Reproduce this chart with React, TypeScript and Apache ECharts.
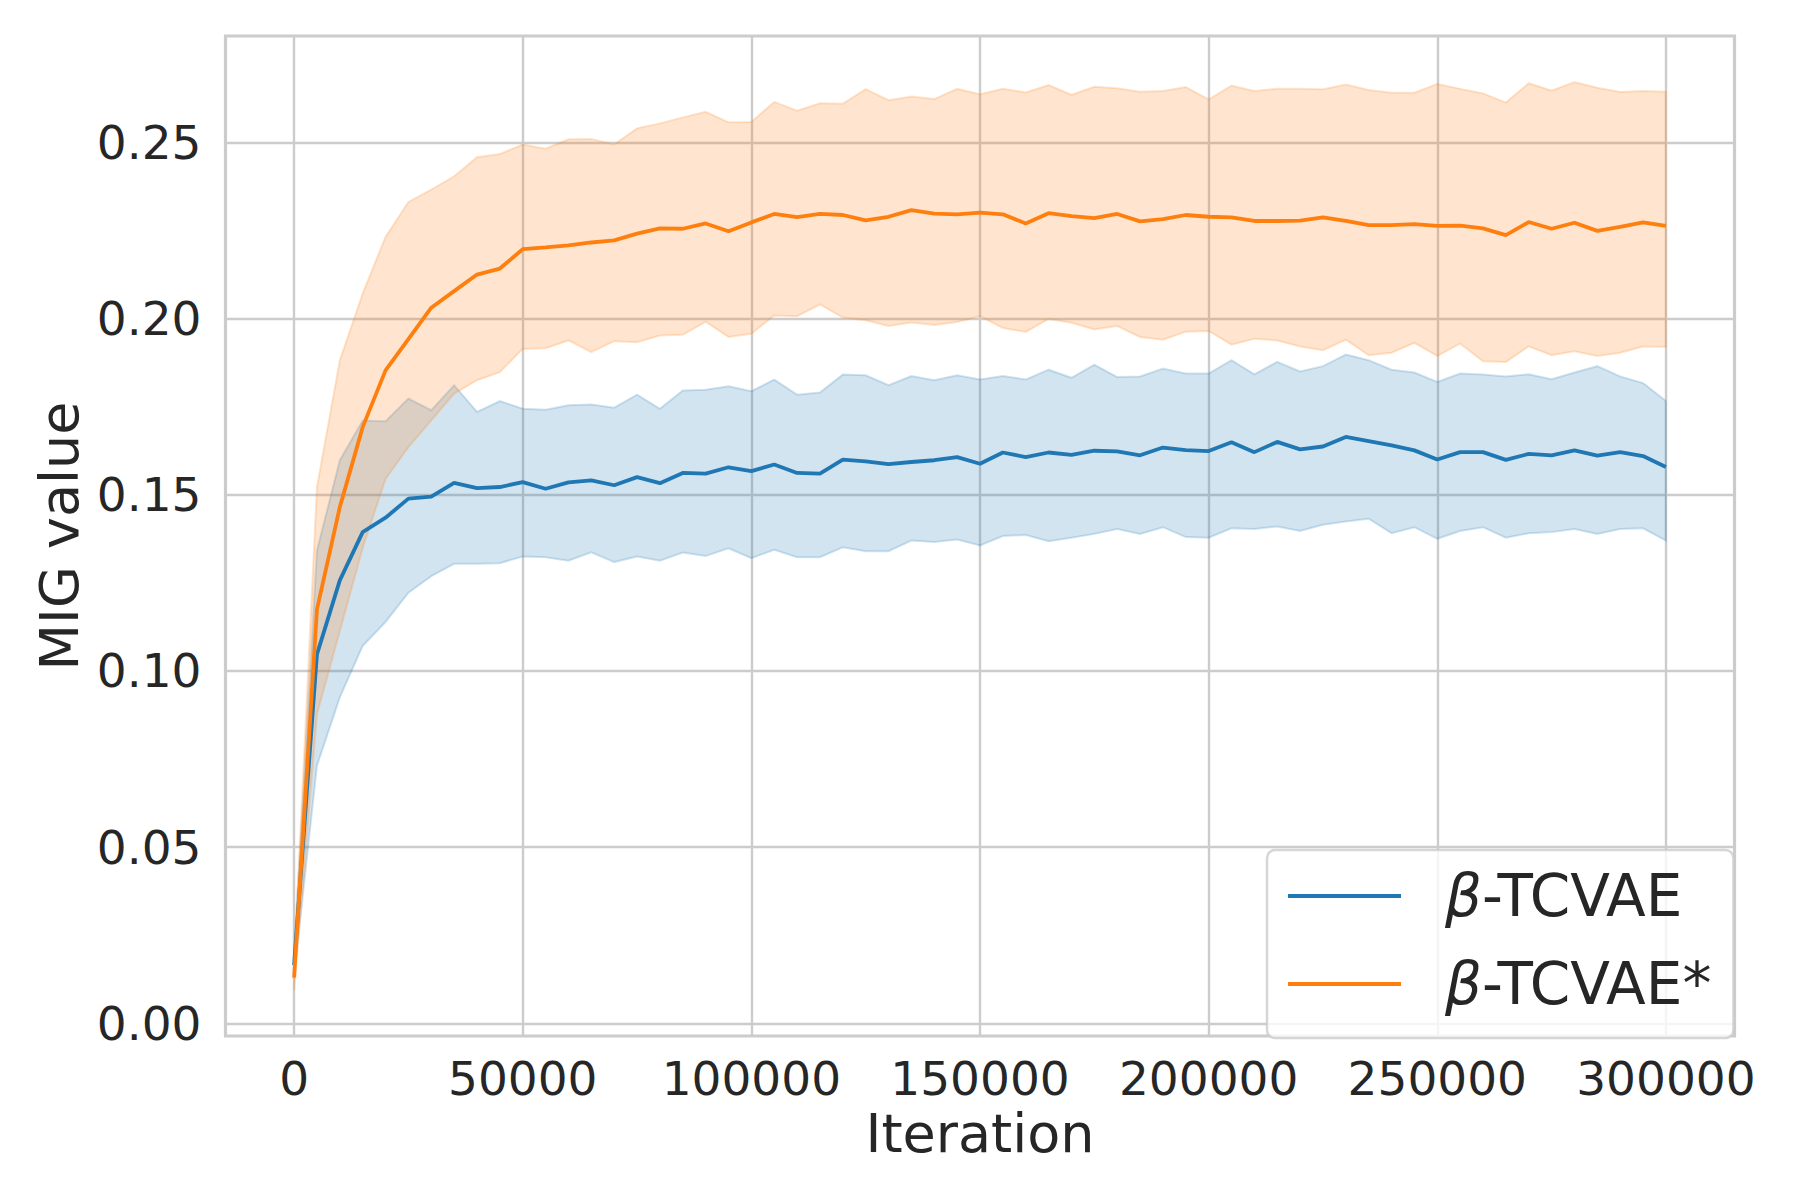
import React, { useEffect, useRef } from "react";
import * as echarts from "echarts";

// ---------- data ----------
const ITERATIONS = [
  0, 5000, 10000, 15000, 20000, 25000, 30000, 35000, 40000, 45000,
  50000, 55000, 60000, 65000, 70000, 75000, 80000, 85000, 90000, 95000,
  100000, 105000, 110000, 115000, 120000, 125000, 130000, 135000, 140000, 145000,
  150000, 155000, 160000, 165000, 170000, 175000, 180000, 185000, 190000, 195000,
  200000, 205000, 210000, 215000, 220000, 225000, 230000, 235000, 240000, 245000,
  250000, 255000, 260000, 265000, 270000, 275000, 280000, 285000, 290000, 295000,
  300000,
];

const TCVAE_MEAN = [
  0.0165, 0.1047, 0.1257, 0.1394, 0.1435, 0.1489, 0.1495, 0.1534, 0.1519, 0.1522,
  0.1536, 0.1517, 0.1535, 0.1541, 0.1527, 0.155, 0.1533, 0.1562, 0.156, 0.1578,
  0.1567, 0.1586, 0.1562, 0.156, 0.16, 0.1595, 0.1587, 0.1593, 0.1598, 0.1607,
  0.1588, 0.162, 0.1607, 0.162, 0.1613, 0.1625, 0.1623, 0.1612, 0.1634, 0.1627,
  0.1624, 0.1649, 0.1621, 0.165, 0.1629, 0.1637, 0.1664, 0.1652, 0.164, 0.1626,
  0.16, 0.1621, 0.1621, 0.1599, 0.1616, 0.1612, 0.1626, 0.1611, 0.1621, 0.161,
  0.1579,
];
const TCVAE_LOW = [
  0.0135, 0.0731, 0.0925, 0.1071, 0.1139, 0.1222, 0.1269, 0.1304, 0.1304, 0.1306,
  0.1325, 0.1323, 0.1313, 0.1337, 0.1309, 0.1325, 0.1313, 0.1336, 0.1326, 0.1348,
  0.132, 0.1344, 0.1323, 0.1323, 0.1351, 0.134, 0.134, 0.137, 0.1366, 0.1373,
  0.1356, 0.1383, 0.1386, 0.1368, 0.1378, 0.1389, 0.1403, 0.1389, 0.1408, 0.138,
  0.1378, 0.1405, 0.1403, 0.141, 0.1397, 0.1415, 0.1424, 0.1432, 0.1391, 0.1408,
  0.1375, 0.1397, 0.1408, 0.1378, 0.1391, 0.1394, 0.1403, 0.1389, 0.1403, 0.1405,
  0.137,
];
const TCVAE_HIGH = [
  0.0195, 0.1342, 0.1598, 0.1711, 0.1709, 0.1773, 0.174, 0.1811, 0.1735, 0.1766,
  0.1744, 0.1741, 0.1754, 0.1756, 0.1747, 0.1784, 0.1744, 0.1796, 0.1798, 0.1808,
  0.1794, 0.1827, 0.1784, 0.179, 0.1841, 0.1839, 0.1811, 0.1837, 0.1825, 0.1839,
  0.1827, 0.1837, 0.1827, 0.1855, 0.1832, 0.1869, 0.1834, 0.1836, 0.1858, 0.1844,
  0.1844, 0.1882, 0.1842, 0.1877, 0.185, 0.1865, 0.1898, 0.1882, 0.1855, 0.1847,
  0.182, 0.1844, 0.1841, 0.1836, 0.1842, 0.1828, 0.1847, 0.1865, 0.1836, 0.1817,
  0.1766,
];

const STAR_MEAN = [
  0.013, 0.1175, 0.1465, 0.1692, 0.1853, 0.1942, 0.2031, 0.2078, 0.2125, 0.2142,
  0.2197, 0.2202, 0.2208, 0.2216, 0.2222, 0.2241, 0.2256, 0.2255, 0.227, 0.2248,
  0.2273, 0.2297, 0.2288, 0.2297, 0.2294, 0.2279, 0.2289, 0.2308, 0.2298, 0.2296,
  0.2301, 0.2296, 0.227, 0.2299, 0.2291, 0.2285, 0.2297, 0.2276, 0.2282, 0.2294,
  0.2289, 0.2287, 0.2277, 0.2277, 0.2278, 0.2287, 0.2277, 0.2265, 0.2265, 0.2268,
  0.2263, 0.2264, 0.2256, 0.2237, 0.2274, 0.2255, 0.2272, 0.2249, 0.226, 0.2273,
  0.2263,
];
const STAR_LOW = [
  0.0094, 0.0877, 0.1113, 0.1349, 0.1545, 0.1635, 0.1711, 0.1787, 0.1825, 0.1848,
  0.1914, 0.1916, 0.1938, 0.1905, 0.1936, 0.1933, 0.1952, 0.1954, 0.1991, 0.1948,
  0.1957, 0.2009, 0.2007, 0.204, 0.2003, 0.1995, 0.1979, 0.1989, 0.1982, 0.199,
  0.2007, 0.1973, 0.1962, 0.1999, 0.1988, 0.1969, 0.1979, 0.1948, 0.194, 0.1963,
  0.1965, 0.1926, 0.1943, 0.1938, 0.1921, 0.191, 0.194, 0.1896, 0.1903, 0.1931,
  0.1894, 0.1929, 0.1879, 0.1877, 0.1921, 0.1896, 0.1907, 0.1894, 0.1903, 0.1921,
  0.192,
];
const STAR_HIGH = [
  0.017, 0.1522, 0.1882, 0.2071, 0.2232, 0.2331, 0.2366, 0.2404, 0.2458, 0.2467,
  0.2494, 0.2482, 0.2509, 0.251, 0.2494, 0.254, 0.2554, 0.2571, 0.2587, 0.2557,
  0.2558, 0.2615, 0.259, 0.2611, 0.261, 0.2651, 0.262, 0.263, 0.2623, 0.2652,
  0.2637, 0.2652, 0.2642, 0.2663, 0.2635, 0.2658, 0.2654, 0.2644, 0.2646, 0.2657,
  0.2622, 0.2661, 0.2646, 0.2652, 0.2652, 0.2651, 0.2664, 0.2649, 0.2641, 0.2641,
  0.2666, 0.2652, 0.2639, 0.2613, 0.2668, 0.2647, 0.2671, 0.2655, 0.2643, 0.2646,
  0.2644,
];

const SERIES_NAMES = ["β-TCVAE", "β-TCVAE*"];
const X_TICKS = [0, 50000, 100000, 150000, 200000, 250000, 300000];
const Y_TICKS = [0, 0.05, 0.1, 0.15, 0.2, 0.25];

// ---------- styling ----------
const FONT = "DejaVu Sans";
const TEXT = "#262626";
const GRIDC = "#cccccc";
const BLUE = "#1f77b4";
const ORANGE = "#ff7f0e";
const BLUE_A = "rgba(31,119,180,0.2)";
const ORANGE_A = "rgba(255,127,14,0.2)";
const LEGEND_FS = 58;

function bandSeries(name: string, lo: number[], hi: number[], rgba: string) {
  return {
    name,
    type: "custom",
    silent: true,
    data: ITERATIONS.map((x, i) => [x, lo[i], hi[i]]),
    encode: { x: 0, y: [1, 2] },
    renderItem: (params: any, api: any) => {
      if (params.dataIndex !== 0) return null;
      const top = ITERATIONS.map((x, i) => api.coord([x, hi[i]]));
      const bottom = ITERATIONS.map((x, i) => api.coord([x, lo[i]])).reverse();
      return {
        type: "polygon",
        shape: { points: top.concat(bottom) },
        style: { fill: rgba, stroke: rgba, lineWidth: 2 },
      };
    },
  };
}

function meanSeries(name: string, mean: number[], color: string) {
  return {
    name,
    type: "line",
    data: ITERATIONS.map((x, i) => [x, mean[i]]),
    symbol: "none",
    showSymbol: false,
    lineStyle: { color, width: 3.8 },
    itemStyle: { color },
  };
}

export default function App() {
  const ref = useRef<HTMLDivElement>(null);

  useEffect(() => {
    if (!ref.current) return;
    const chart = echarts.init(ref.current, null, {
      renderer: "svg",
      width: 1800,
      height: 1200,
    });

    const option: any = {
      animation: false,
      backgroundColor: "#ffffff",
      grid: {
        left: 225.5,
        right: 65.5,
        top: 36,
        bottom: 164,
        show: true,
        borderColor: GRIDC,
        borderWidth: 3.2,
        backgroundColor: "transparent",
        containLabel: false,
        outerBoundsMode: "none",
      },
      xAxis: {
        type: "value",
        min: -15000,
        max: 315000,
        axisLine: { show: false },
        axisTick: { show: false, customValues: X_TICKS },
        axisLabel: {
          customValues: X_TICKS,
          formatter: (v: number) => String(v),
          fontFamily: FONT,
          fontSize: 47,
          color: TEXT,
          margin: 19,
        },
        splitLine: { show: true, lineStyle: { color: GRIDC, width: 2.4 } },
        name: "Iteration",
        nameLocation: "middle",
        nameGap: 70,
        nameMoveOverlap: false,
        nameTextStyle: { fontFamily: FONT, fontSize: 54, color: TEXT },
      },
      yAxis: {
        type: "value",
        min: -0.0036,
        max: 0.2802,
        axisLine: { show: false },
        axisTick: { show: false, customValues: Y_TICKS },
        axisLabel: {
          customValues: Y_TICKS,
          formatter: (v: number) => v.toFixed(2),
          fontFamily: FONT,
          fontSize: 47,
          color: TEXT,
          margin: 24,
        },
        splitLine: { show: true, lineStyle: { color: GRIDC, width: 2.4 } },
        name: "MIG value",
        nameLocation: "middle",
        nameGap: 139,
        nameMoveOverlap: false,
        nameTextStyle: { fontFamily: FONT, fontSize: 54, color: TEXT },
      },
      legend: {
        data: SERIES_NAMES.map((n) => ({ name: n, icon: "rect" })),
        orient: "vertical",
        align: "left",
        left: 1267,
        top: 850,
        padding: [17, 22, 25, 21],
        itemGap: 30,
        itemWidth: 113,
        itemHeight: 4,
        selectedMode: false,
        backgroundColor: "rgba(255,255,255,0.8)",
        borderColor: "rgba(204,204,204,0.8)",
        borderWidth: 2.5,
        borderRadius: 8,
        formatter: (name: string) => `{sp| }{b|β}{t|${name.slice(1)}}`,
        textStyle: {
          fontFamily: FONT,
          fontSize: LEGEND_FS,
          color: TEXT,
          lineHeight: 56,
          rich: {
            sp: { width: 39, fontSize: LEGEND_FS, lineHeight: 56 },
            b: { fontFamily: FONT, fontStyle: "italic", fontSize: LEGEND_FS, color: TEXT, lineHeight: 56 },
            t: { fontFamily: FONT, fontSize: LEGEND_FS, color: TEXT, lineHeight: 56 },
          },
        },
      },
      series: [
        bandSeries("band-1", TCVAE_LOW, TCVAE_HIGH, BLUE_A),
        bandSeries("band-2", STAR_LOW, STAR_HIGH, ORANGE_A),
        meanSeries(SERIES_NAMES[0], TCVAE_MEAN, BLUE),
        meanSeries(SERIES_NAMES[1], STAR_MEAN, ORANGE),
      ],
    };

    chart.setOption(option);
    return () => chart.dispose();
  }, []);

  return (
    <div
      ref={ref}
      style={{
        position: "absolute",
        left: 0,
        top: 0,
        width: 1800,
        height: 1200,
        background: "#ffffff",
      }}
    />
  );
}
